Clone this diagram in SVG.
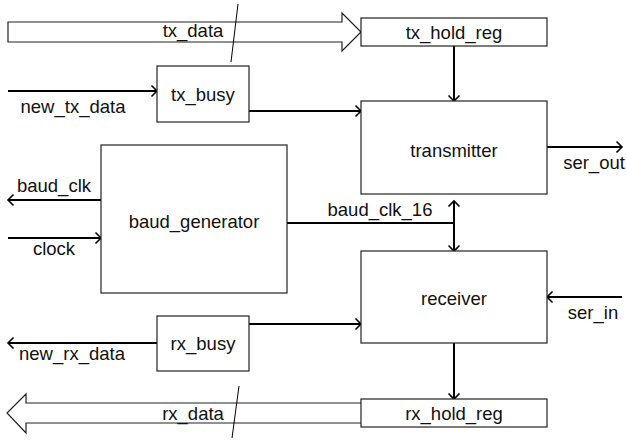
<svg xmlns="http://www.w3.org/2000/svg" width="627" height="440" viewBox="0 0 627 440">
<defs>
<marker id="arr" markerUnits="userSpaceOnUse" markerWidth="14" markerHeight="14" refX="10" refY="7" orient="auto" overflow="visible">
<path d="M4.5,1.5 L10,7 L4.5,12.5" fill="none" stroke="#000" stroke-width="1.6"/>
</marker>
</defs>
<style>
.box{fill:#fff;stroke:#222;stroke-width:1.2}
.bus{fill:#fff;stroke:#222;stroke-width:1.2}
.ln{fill:none;stroke:#000;stroke-width:2}
.ar{fill:none;stroke:#000;stroke-width:2;marker-end:url(#arr)}
.sl{fill:none;stroke:#000;stroke-width:1}
text{font-family:"Liberation Sans",Arial,sans-serif;font-size:18.5px;fill:#111;text-anchor:middle;dominant-baseline:central}
</style>
<rect width="627" height="440" fill="#fff"/>
<g id="connectors">
<path class="bus" d="M8,22 H342 V13 L361,32 L342,51 V42 H8 Z"/>
<text x="193" y="30">tx_data</text>
<path class="sl" d="M238,4 L231,62"/>
<path class="bus" d="M361,403 H26 V394 L7,413 L26,433 V423 H361"/>
<text x="193" y="413">rx_data</text>
<path class="sl" d="M239,386 L232,438"/>
<path class="ar" d="M454,46 V101"/>
<path class="ar" d="M8,91 H157"/>
<text x="73" y="106">new_tx_data</text>
<path class="ar" d="M249,111 H361"/>
<path class="ar" d="M547,147 H622"/>
<text x="594" y="162">ser_out</text>
<path class="ar" d="M101,200 H8"/>
<text x="54" y="185">baud_clk</text>
<path class="ar" d="M8,238 H101"/>
<text x="54" y="248">clock</text>
<path class="ln" d="M287,223 H454"/>
<path class="ar" d="M454,223 V201"/>
<path class="ar" d="M454,223 V251"/>
<text x="380" y="209">baud_clk_16</text>
<path class="ar" d="M622,297 H547"/>
<text x="593" y="312">ser_in</text>
<path class="ar" d="M249,324 H361"/>
<path class="ar" d="M157,343 H8"/>
<text x="72" y="353">new_rx_data</text>
<path class="ar" d="M454,343 V399"/>
</g>
<g id="tx_hold_reg"><rect class="box" x="361" y="18" width="186" height="28"/><text x="454" y="32">tx_hold_reg</text></g>
<g id="tx_busy"><rect class="box" x="157" y="66" width="92" height="56"/><text x="203" y="94">tx_busy</text></g>
<g id="transmitter"><rect class="box" x="361" y="101" width="186" height="93"/><text x="454" y="150">transmitter</text></g>
<g id="baud_generator"><rect class="box" x="101" y="145" width="186" height="148"/><text x="194" y="221">baud_generator</text></g>
<g id="receiver"><rect class="box" x="361" y="251" width="186" height="92"/><text x="454" y="298">receiver</text></g>
<g id="rx_busy"><rect class="box" x="157" y="316" width="92" height="55"/><text x="203" y="343">rx_busy</text></g>
<g id="rx_hold_reg"><rect class="box" x="361" y="399" width="186" height="28"/><text x="454" y="413">rx_hold_reg</text></g>
</svg>
